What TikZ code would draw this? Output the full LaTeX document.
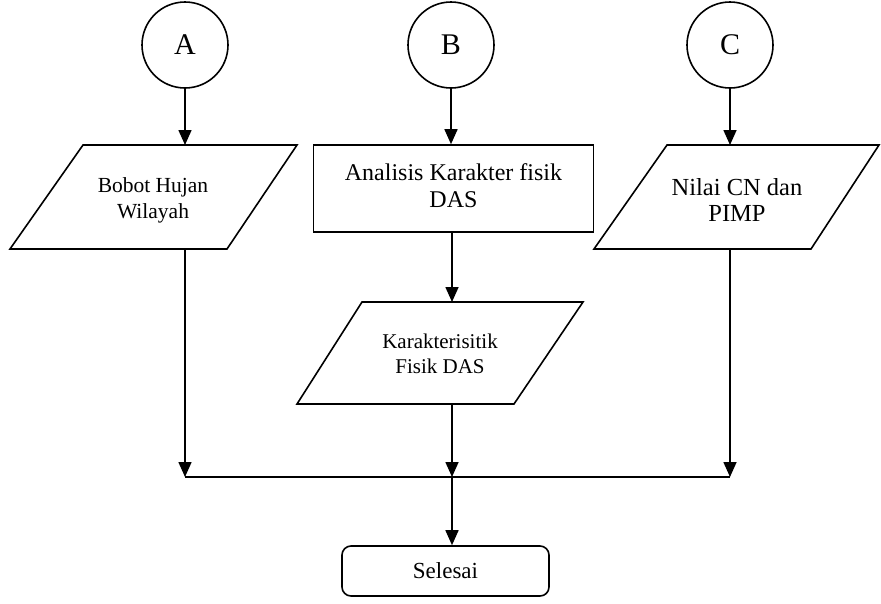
\documentclass[tikz,border=0pt]{standalone}
\usepackage{fontspec}
\setmainfont{Liberation Serif}
\usetikzlibrary{arrows.meta}

\begin{document}
\begin{tikzpicture}[x=1pt, y=-1pt, line width=1.6pt,
  conn/.style={-{Triangle[length=15pt,width=13pt]}},
  connector/.style={circle, draw, minimum size=86pt, inner sep=0pt,
    font=\fontsize{30}{30}\selectfont},
  txt/.style={align=center, inner sep=0pt, font=\fontsize{24}{27}\selectfont},
  box/.style={draw, line join=miter},
  shapeline/.style={draw, line join=miter}]
\useasboundingbox (0,0) rectangle (881,603);

% off-page connectors
\node[connector] (A) at (185,45) {A};
\node[connector] (B) at (451,45) {B};
\node[connector] (C) at (730,45) {C};

% input: rainfall weight
\draw[shapeline] (83,145) -- (297,145) -- (227,249) -- (10,249) -- cycle;
\node[txt, font=\fontsize{21.5}{26}\selectfont] (pA) at (153,200) {Bobot Hujan\\Wilayah};
\coordinate (pA-top) at (185,145);
\coordinate (pA-bot) at (185,249);

% process: catchment analysis
\node[box, minimum width=280pt, minimum height=87pt] (rB) at (453.5,188.5) {};
\node[txt] (rBt) at (453.5,186) {Analisis Karakter fisik\\DAS};

% input: CN value and impervious share
\draw[shapeline] (667,145) -- (879,145) -- (811,249) -- (594,249) -- cycle;
\node[txt, font=\fontsize{24.5}{26}\selectfont] (pC) at (737,200) {Nilai CN dan\\PIMP};
\coordinate (pC-top) at (730,145);
\coordinate (pC-bot) at (730,249);

% output: catchment characteristics
\draw[shapeline] (362,302) -- (583,302) -- (514,404) -- (297,404) -- cycle;
\node[txt, font=\fontsize{21}{25}\selectfont] (p2) at (440,354) {Karakterisitik\\Fisik DAS};
\coordinate (p2-top) at (452,302);
\coordinate (p2-bot) at (452,404);

% merge line
\coordinate (jL) at (185,477);
\coordinate (jM) at (452,477);
\coordinate (jR) at (730,477);

% terminator
\node[box, rounded corners=9pt, minimum width=207pt, minimum height=50pt,
  font=\fontsize{23}{27}\selectfont] (end) at (445.5,571) {Selesai};

% connectors
\draw[conn] (A) -- (pA-top);
\draw[conn] (B) -- (B |- rB.north);
\draw[conn] (C) -- (pC-top);
\draw[conn] (p2-top |- rB.south) -- (p2-top);
\draw[conn] (pA-bot) -- (jL);
\draw[conn] (p2-bot) -- (jM);
\draw[conn] (pC-bot) -- (jR);
\draw (jL) -- (jR);
\draw[conn] (jM) -- (jM |- end.north);
\end{tikzpicture}
\end{document}
